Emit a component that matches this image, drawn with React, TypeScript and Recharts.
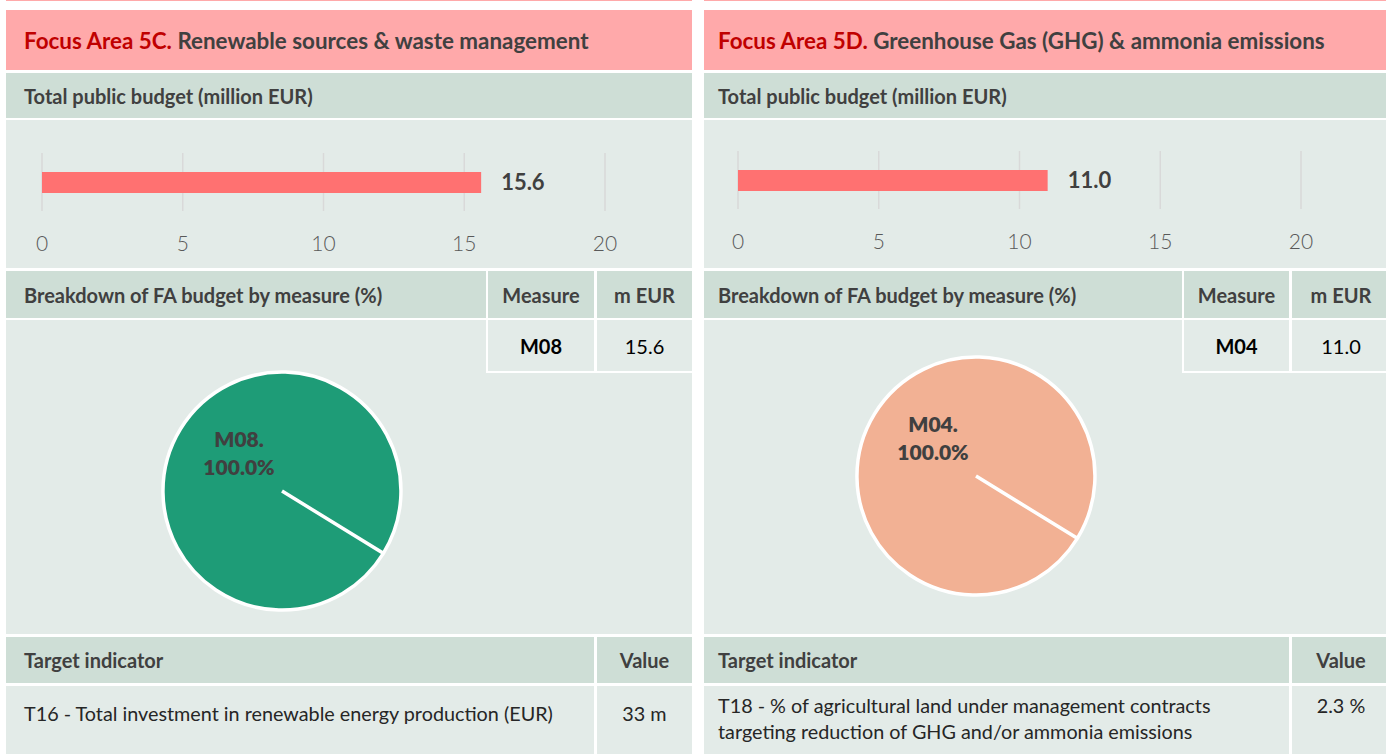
import React from "react";
import {
  BarChart,
  Bar,
  XAxis,
  YAxis,
  CartesianGrid,
  LabelList,
  PieChart,
  Pie,
  Cell,
} from "recharts";

// ---------- data ----------
const focusAreaCodes = ["Focus Area 5C.", "Focus Area 5D."];
const focusAreaNames = [
  "Renewable sources & waste management",
  "Greenhouse Gas (GHG) & ammonia emissions",
];
const totalBudget = [15.6, 11.0]; // million EUR
const axisTicks = [0, 5, 10, 15, 20];
const measureCodes = ["M08", "M04"];
const measureBudget = [15.6, 11.0]; // m EUR
const measureShare = [100.0, 100.0]; // %
const targetIndicators = [
  ["T16 - Total investment in renewable energy production (EUR)"],
  [
    "T18 - % of agricultural land under management contracts",
    "targeting reduction of GHG and/or ammonia emissions",
  ],
];
const targetValues = ["33 m", "2.3 %"];

// ---------- styles ----------
const FONT = "Lato, 'Open Sans', sans-serif";
const PINK = "#FFA9AA";
const GREEN = "#CEDED6";
const LIGHT = "#E3EBE8";
const DARK = "#404040";
const RED = "#C00000";
const BAR = "#FF7171";
const PIE_COLORS = ["#1E9C77", "#F2B194"];

const panelX = [6, 704];
const PW = 686;
// per-panel layout tweaks
const textPad = [18, 14];
const chartTop = [120, 118];
const chartMarginLR = [
  { left: 36, right: 87 },
  { left: 34, right: 89 },
];
const pieCenter = [
  { cx: 276, cy: 171 },
  { cx: 272, cy: 156 },
];
const colText = [480, 478];
const colMeasure = [106, 105];
const colTargetText = [588, 585];

const box = (
  left: number,
  top: number,
  width: number,
  height: number,
  bg: string
): React.CSSProperties => ({
  position: "absolute",
  left,
  top,
  width,
  height,
  background: bg,
  boxSizing: "border-box",
});

function PieLabel(props: any) {
  const { cx, cy, name, value } = props;
  return (
    <text
      fill={DARK}
      fontFamily={FONT}
      fontWeight={800}
      fontSize={21}
      textAnchor="middle"
    >
      <tspan x={cx - 43} y={cy - 44}>
        {name}.
      </tspan>
      <tspan x={cx - 43} y={cy - 16}>
        {Number(value).toFixed(1)}%
      </tspan>
    </text>
  );
}

function Panel({ i }: { i: number }) {
  const x = panelX[i];
  const barData = [{ name: "total", value: totalBudget[i] }];
  const pieData = [{ name: measureCodes[i], value: measureShare[i] }];
  const tA = colText[i];
  const mW = colMeasure[i];
  const eX = tA + 2 + mW + 3;
  const eW = PW - eX;
  const vX = colTargetText[i] + 3;
  const vW = PW - vX;
  const pad = textPad[i];
  const twoLines = targetIndicators[i].length > 1;
  const headTxt: React.CSSProperties = {
    fontFamily: FONT,
    fontWeight: 700,
    fontSize: 20,
    color: DARK,
    display: "flex",
    alignItems: "center",
    whiteSpace: "nowrap",
  };
  const bodyTxt: React.CSSProperties = {
    fontFamily: FONT,
    fontSize: 19.8,
    color: "#262626",
    lineHeight: "26px",
    paddingTop: twoLines ? 6 : 14,
    whiteSpace: "nowrap",
  };
  return (
    <div style={{ position: "absolute", left: x, top: 0, width: PW, height: 754 }}>
      <div style={box(0, 0, PW, 1, PINK)} />
      {/* title */}
      <div
        style={{
          ...box(0, 10, PW, 60, PINK),
          ...headTxt,
          fontSize: 22.4,
          paddingLeft: pad,
        }}
      >
        <span style={{ color: RED }}>{focusAreaCodes[i]}</span>
        <span>&nbsp;{focusAreaNames[i]}</span>
      </div>
      {/* budget header */}
      <div style={{ ...box(0, 73, PW, 45, GREEN), ...headTxt, paddingLeft: pad }}>
        Total public budget (million EUR)
      </div>
      {/* bar chart area */}
      <div style={box(0, 120, PW, 148, LIGHT)} />
      <div style={{ position: "absolute", left: 0, top: chartTop[i] }}>
        <BarChart
          width={PW}
          height={148}
          data={barData}
          layout="vertical"
          margin={{ top: 33, bottom: 0, ...chartMarginLR[i] }}
        >
          <CartesianGrid horizontal={false} stroke="#D9D9D9" strokeWidth={1.5} />
          <XAxis
            type="number"
            domain={[0, 20]}
            ticks={axisTicks}
            axisLine={false}
            tickLine={false}
            tickMargin={19}
            height={57}
            tick={{ fill: "#595959", fontSize: 21, fontFamily: FONT, fontWeight: 300 }}
          />
          <YAxis type="category" dataKey="name" hide />
          <Bar dataKey="value" fill={BAR} barSize={21} isAnimationActive={false}>
            <LabelList
              dataKey="value"
              position="right"
              offset={20}
              formatter={(v: any) => Number(v).toFixed(1)}
              fill={DARK}
              fontFamily={FONT}
              fontWeight={700}
              fontSize={22}
            />
          </Bar>
        </BarChart>
      </div>
      {/* breakdown header */}
      <div style={{ ...box(0, 271, tA, 47, GREEN), ...headTxt, paddingLeft: pad }}>
        Breakdown of FA budget by measure (%)
      </div>
      <div
        style={{ ...box(tA + 2, 271, mW, 47, GREEN), ...headTxt, justifyContent: "center" }}
      >
        Measure
      </div>
      <div style={{ ...box(eX, 271, eW, 47, GREEN), ...headTxt, justifyContent: "center" }}>
        m EUR
      </div>
      {/* pie area */}
      <div style={box(0, 320, PW, 314, LIGHT)} />
      <div style={box(tA, 320, PW - tA, 53, "#FFFFFF")} />
      <div
        style={{
          ...box(tA + 2, 320, mW, 51, LIGHT),
          ...headTxt,
          color: "#000",
          justifyContent: "center",
        }}
      >
        {measureCodes[i]}
      </div>
      <div
        style={{
          ...box(eX, 320, eW, 51, LIGHT),
          ...headTxt,
          fontWeight: 400,
          color: "#000",
          justifyContent: "center",
        }}
      >
        {measureBudget[i].toFixed(1)}
      </div>
      <div style={{ position: "absolute", left: 0, top: 320 }}>
        <PieChart width={tA} height={314} margin={{ top: 0, right: 0, bottom: 0, left: 0 }}>
          <Pie
            data={pieData}
            dataKey="value"
            nameKey="name"
            cx={pieCenter[i].cx}
            cy={pieCenter[i].cy}
            outerRadius={119}
            startAngle={-31.6}
            endAngle={328.4}
            stroke="#FFFFFF"
            strokeWidth={3.5}
            label={PieLabel}
            labelLine={false}
            isAnimationActive={false}
          >
            {pieData.map((d, k) => (
              <Cell key={k} fill={PIE_COLORS[i]} />
            ))}
          </Pie>
        </PieChart>
      </div>
      {/* target header */}
      <div
        style={{ ...box(0, 637, colTargetText[i], 46, GREEN), ...headTxt, paddingLeft: pad }}
      >
        Target indicator
      </div>
      <div style={{ ...box(vX, 637, vW, 46, GREEN), ...headTxt, justifyContent: "center" }}>
        Value
      </div>
      {/* target body */}
      <div style={{ ...box(0, 686, colTargetText[i], 80, LIGHT), ...bodyTxt, paddingLeft: pad }}>
        {targetIndicators[i].map((t, k) => (
          <div key={k}>{t}</div>
        ))}
      </div>
      <div style={{ ...box(vX, 686, vW, 80, LIGHT), ...bodyTxt, textAlign: "center" }}>
        {targetValues[i]}
      </div>
    </div>
  );
}

export default function App() {
  return (
    <div
      style={{
        position: "absolute",
        left: 0,
        top: 0,
        width: 1386,
        height: 754,
        overflow: "hidden",
        background: "#FFFFFF",
      }}
    >
      <Panel i={0} />
      <Panel i={1} />
    </div>
  );
}
